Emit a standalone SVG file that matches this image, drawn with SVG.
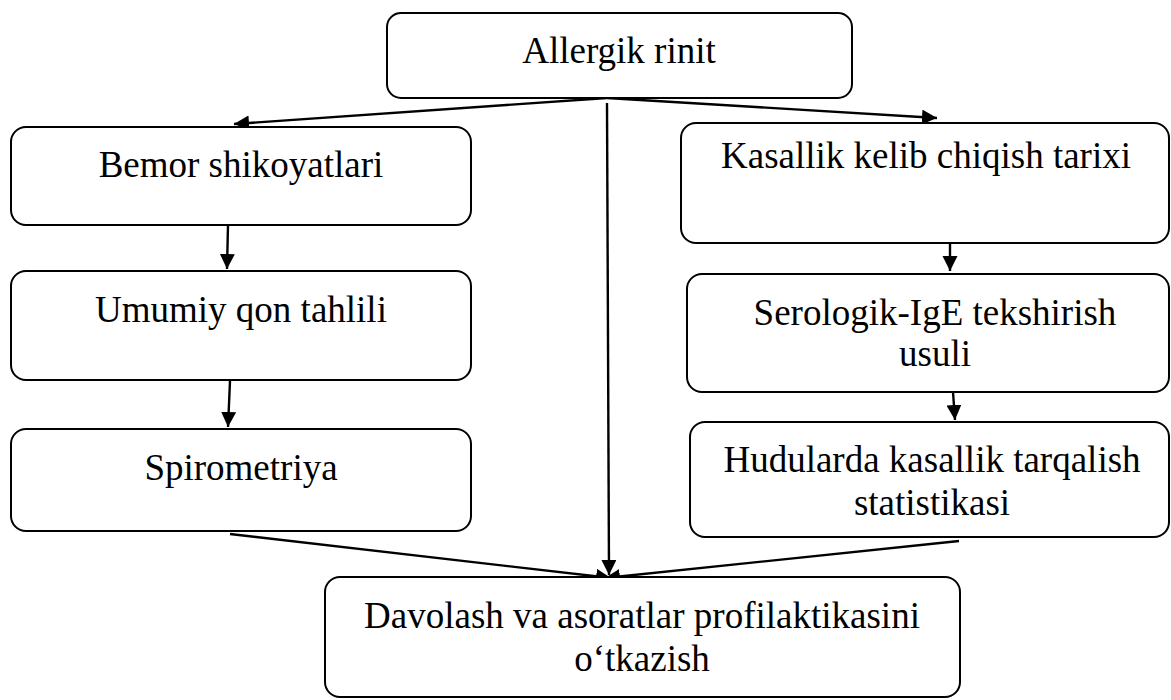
<svg xmlns="http://www.w3.org/2000/svg" width="1171" height="700" viewBox="0 0 1171 700">
<style>
.box{fill:#fff;stroke:#000;stroke-width:2}
.t{font-size:37px;fill:#000;text-anchor:middle}
.c{stroke:#000;stroke-width:2.4;fill:none;marker-end:url(#ah)}
</style>
<defs>
<marker id="ah" markerUnits="userSpaceOnUse" markerWidth="16" markerHeight="16" refX="15" refY="7.5" orient="auto">
<path d="M0,0 L15,7.5 L0,15 z" fill="#000"/>
</marker>
</defs>
<rect width="1171" height="700" fill="#fff"/>
<g id="connectors">
<line class="c" x1="607" y1="98" x2="234" y2="124"/>
<line class="c" x1="607" y1="98" x2="937" y2="118"/>
<line class="c" x1="607" y1="103" x2="609" y2="575"/>
<line class="c" x1="228" y1="225" x2="227" y2="269"/>
<line class="c" x1="230" y1="381" x2="228" y2="427"/>
<line class="c" x1="950" y1="243" x2="950" y2="271"/>
<line class="c" x1="953" y1="392" x2="955" y2="420"/>
<line class="c" x1="230" y1="534" x2="611" y2="578"/>
<line class="c" x1="959" y1="541" x2="605" y2="578"/>
</g>
<g font-family="'Liberation Serif', 'Times New Roman', Tinos, 'DejaVu Serif', serif">
<g id="n-allergik">
<rect class="box" x="387" y="13" width="465" height="85" rx="14"/>
<text class="t" x="619" y="63">Allergik rinit</text>
</g>
<g id="n-bemor">
<rect class="box" x="11" y="127" width="460" height="98" rx="15"/>
<text class="t" x="241" y="177">Bemor shikoyatlari</text>
</g>
<g id="n-umumiy">
<rect class="box" x="11" y="271" width="460" height="109" rx="15"/>
<text class="t" x="241" y="322">Umumiy qon tahlili</text>
</g>
<g id="n-spiro">
<rect class="box" x="11" y="429" width="460" height="102" rx="15"/>
<text class="t" x="241" y="480">Spirometriya</text>
</g>
<g id="n-kasallik">
<rect class="box" x="681" y="123" width="488" height="120" rx="15"/>
<text class="t" x="926" y="168">Kasallik kelib chiqish tarixi</text>
</g>
<g id="n-serologik">
<rect class="box" x="687" y="274" width="482" height="118" rx="15"/>
<text class="t" x="935" y="325">Serologik-IgE tekshirish</text>
<text class="t" x="935" y="366">usuli</text>
</g>
<g id="n-hudularda">
<rect class="box" x="690" y="422" width="479" height="115" rx="15"/>
<text class="t" x="932" y="472">Hudularda kasallik tarqalish</text>
<text class="t" x="932" y="515">statistikasi</text>
</g>
<g id="n-davolash">
<rect class="box" x="325" y="577" width="635" height="120" rx="15"/>
<text class="t" x="642" y="628">Davolash va asoratlar profilaktikasini</text>
<text class="t" x="642" y="671">o‘tkazish</text>
</g>
</g>
</svg>
